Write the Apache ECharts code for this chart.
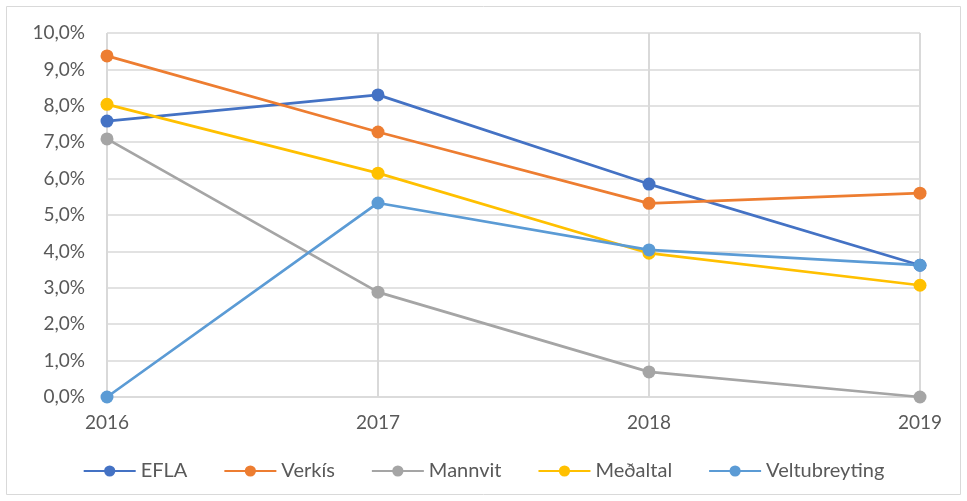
<!DOCTYPE html>
<html>
<head>
<meta charset="UTF-8">
<title>Chart</title>
<script src="https://cdn.jsdelivr.net/npm/echarts@6/dist/echarts.min.js"></script>
<style>
  html, body { margin: 0; padding: 0; background: #fff; }
  #main { width: 967px; height: 501px; }
</style>
</head>
<body>
<div id="main"></div>
<script type="text/javascript">
    // ár
    var years = ['2016', '2017', '2018', '2019'];
    // gildi í %
    var efla = [7.58, 8.30, 5.85, 3.62];
    var verkis = [9.37, 7.28, 5.32, 5.60];
    var mannvit = [7.09, 2.88, 0.69, 0.0];
    var medaltal = [8.04, 6.15, 3.95, 3.07];
    var veltubreyting = [0.0, 5.33, 4.04, 3.62];

    var font = 'Lato';
    var txtColor = '#595959';

    function lineSeries(name, data, color) {
        return {
            name: name,
            type: 'line',
            data: data,
            symbol: 'circle',
            symbolSize: 13,
            lineStyle: { width: 2.75, color: color },
            itemStyle: { color: color },
            emphasis: { disabled: true }
        };
    }

    var myChart = echarts.init(document.getElementById('main'));
    var option = {
        animation: false,
        graphic: [{
            type: 'rect',
            shape: { x: 6.5, y: 6.5, width: 954, height: 488 },
            style: { fill: 'none', stroke: '#d9d9d9', lineWidth: 1 },
            silent: true
        }],
        grid: { left: 107, right: 47, top: 33, bottom: 104 },
        legend: {
            top: 456,
            left: 'center',
            itemWidth: 52,
            itemHeight: 14,
            itemGap: 36,
            textStyle: { fontFamily: font, fontSize: 20, color: txtColor },
            data: ['EFLA', 'Verkís', 'Mannvit', 'Meðaltal', 'Veltubreyting']
        },
        xAxis: {
            type: 'category',
            data: years,
            boundaryGap: false,
            axisLine: { lineStyle: { color: '#d9d9d9', width: 1.5 } },
            axisTick: { show: false },
            axisLabel: { fontFamily: font, fontSize: 19, color: txtColor, margin: 16 },
            splitLine: { show: true, lineStyle: { color: '#d9d9d9', width: 2 } }
        },
        yAxis: {
            type: 'value',
            min: 0,
            max: 10,
            interval: 1,
            axisLine: { show: false },
            axisTick: { show: false },
            axisLabel: {
                fontFamily: font, fontSize: 19, color: txtColor, margin: 22,
                formatter: function (v) { return v.toFixed(1).replace('.', ',') + '%'; }
            },
            splitLine: { lineStyle: { color: '#d9d9d9', width: 1.5 } }
        },
        series: [
            lineSeries('EFLA', efla, '#4472C4'),
            lineSeries('Verkís', verkis, '#ED7D31'),
            lineSeries('Mannvit', mannvit, '#A5A5A5'),
            lineSeries('Meðaltal', medaltal, '#FFC000'),
            lineSeries('Veltubreyting', veltubreyting, '#5B9BD5')
        ]
    };
    myChart.setOption(option);
</script>
</body>
</html>
